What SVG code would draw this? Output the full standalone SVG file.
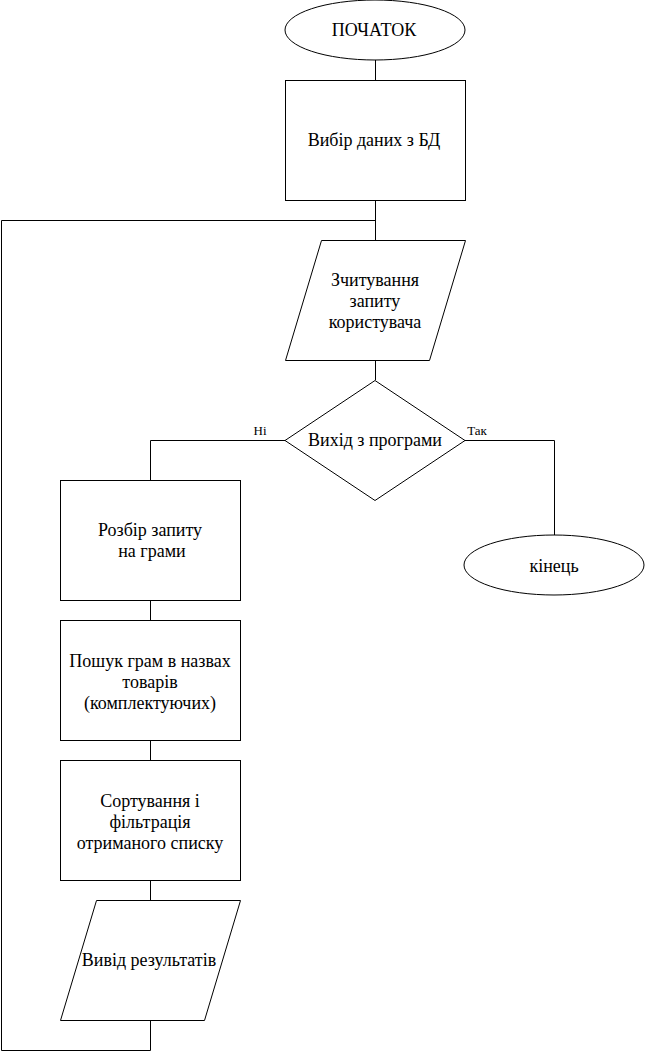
<svg xmlns="http://www.w3.org/2000/svg" width="646" height="1052" viewBox="0 0 646 1052" font-family="Liberation Serif">
<style>
.s{fill:#fff;stroke:#000;stroke-width:1}
.c{fill:none;stroke:#000;stroke-width:1}
.t{font-size:18px;fill:#000;text-anchor:middle;dominant-baseline:central}
.l{font-size:13px;fill:#000;text-anchor:middle}
</style>
<rect width="646" height="1052" fill="#fff"/>
<g id="connectors">
<path class="c" d="M375.5 60V80"/>
<path class="c" d="M375.5 200V240"/>
<path class="c" d="M375.5 360V380"/>
<path class="c" d="M285 440.5H150.5V480"/>
<path class="c" d="M465 440.5H554.5V535"/>
<path class="c" d="M150.5 600V620"/>
<path class="c" d="M150.5 740V760"/>
<path class="c" d="M150.5 880V900"/>
<path class="c" d="M150.5 1020V1050.5H1.5V220.5H375.5"/>
<text class="l" x="260" y="435">Ні</text>
<text class="l" x="477" y="435">Так</text>
</g>
<g id="start">
<ellipse class="s" cx="375" cy="30" rx="90" ry="30"/>
<text class="t" x="374" y="30">ПОЧАТОК</text>
</g>
<g id="select">
<rect class="s" x="285.5" y="80.5" width="180" height="120"/>
<text class="t" x="374" y="140">Вибір даних з БД</text>
</g>
<g id="read">
<polygon class="s" points="321.5,240.5 465.5,240.5 429.5,360.5 285.5,360.5"/>
<text class="t" x="375" y="280">Зчитування</text>
<text class="t" x="375" y="301">запиту</text>
<text class="t" x="375" y="322">користувача</text>
</g>
<g id="decision">
<polygon class="s" points="375,380.5 465,440.5 375,500.5 285,440.5"/>
<text class="t" x="375" y="440">Вихід з програми</text>
</g>
<g id="end">
<ellipse class="s" cx="554" cy="565" rx="90" ry="30"/>
<text class="t" x="554" y="566">кінець</text>
</g>
<g id="parse">
<rect class="s" x="60.5" y="480.5" width="180" height="120"/>
<text class="t" x="150" y="530">Розбір запиту</text>
<text class="t" x="152" y="551">на грами</text>
</g>
<g id="search">
<rect class="s" x="60.5" y="620.5" width="180" height="120"/>
<text class="t" x="150" y="661">Пошук грам в назвах</text>
<text class="t" x="150" y="682">товарів</text>
<text class="t" x="150" y="703">(комплектуючих)</text>
</g>
<g id="sort">
<rect class="s" x="60.5" y="760.5" width="180" height="120"/>
<text class="t" x="150" y="801">Сортування і</text>
<text class="t" x="150" y="822">фільтрація</text>
<text class="t" x="150" y="843">отриманого списку</text>
</g>
<g id="output">
<polygon class="s" points="96.5,900.5 240.5,900.5 204.5,1020.5 60.5,1020.5"/>
<text class="t" x="149" y="960">Вивід результатів</text>
</g>
</svg>
